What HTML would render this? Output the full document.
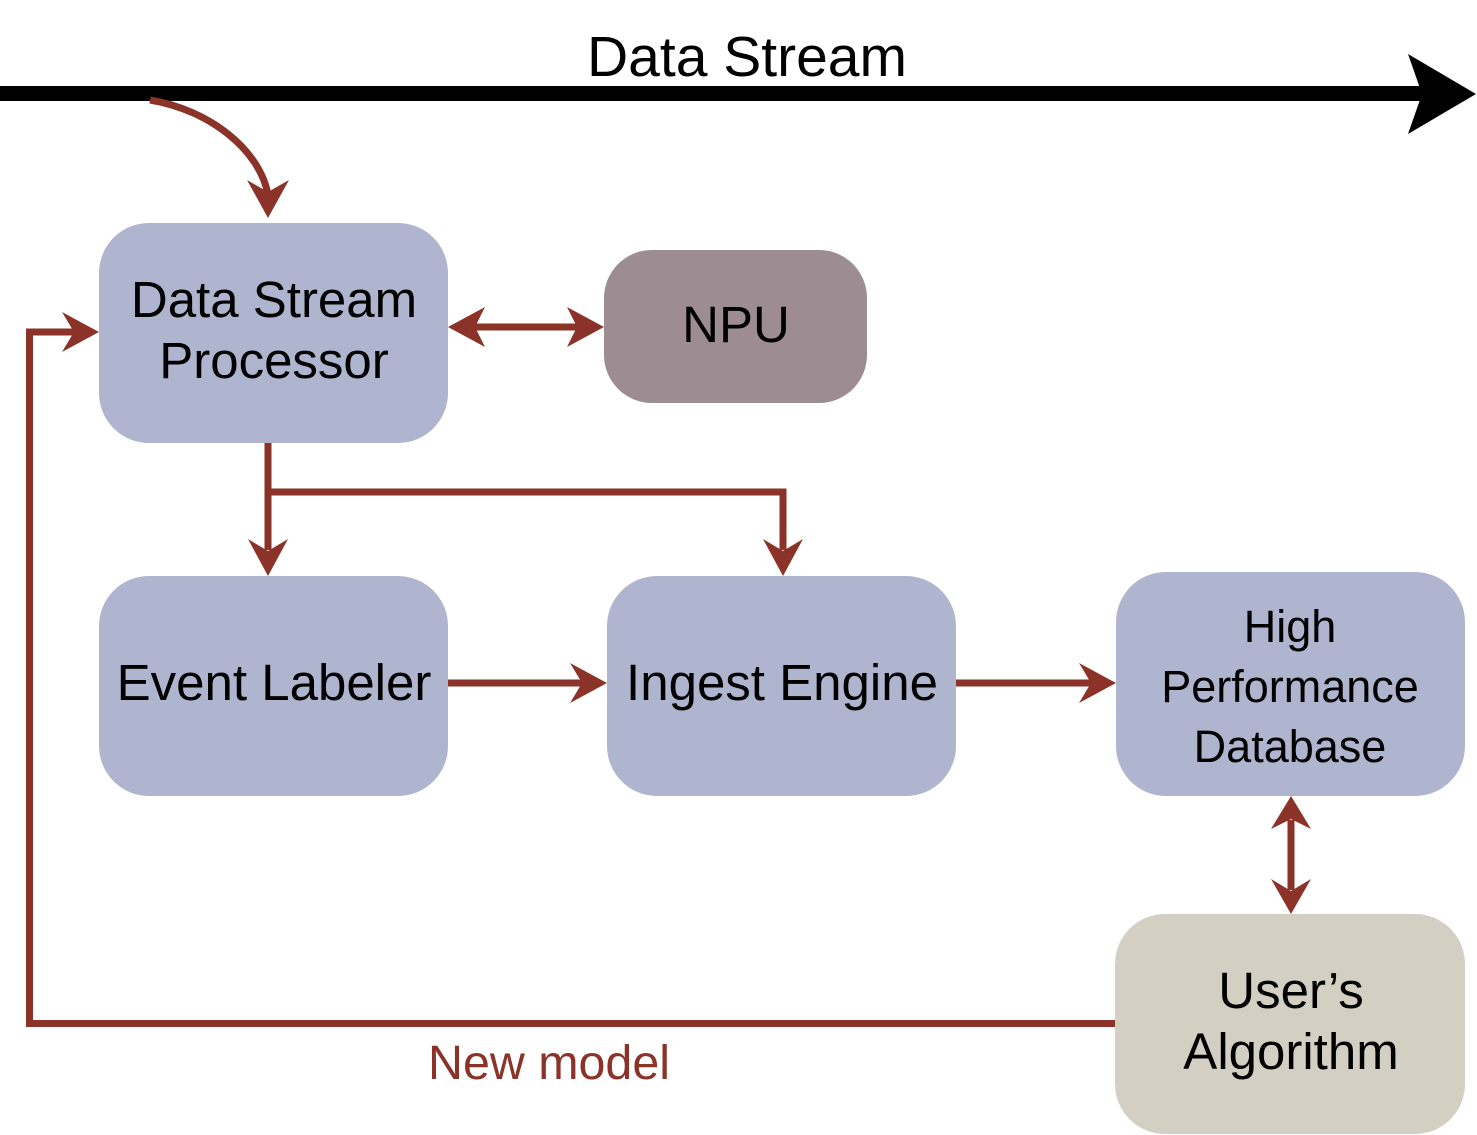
<!DOCTYPE html>
<html><head><meta charset="utf-8"><style>
html,body{margin:0;padding:0;background:#fff;}
svg{display:block;}
text{font-family:"Liberation Sans",Arial,sans-serif;}
</style></head><body>
<svg width="1477" height="1135" viewBox="0 0 1477 1135" xmlns="http://www.w3.org/2000/svg">
<rect x="0" y="86" width="1422" height="15" fill="#000"/>
<polygon points="1476,94 1408,54 1422,94 1408,134" fill="#000"/>
<text x="747" y="76" font-size="57" text-anchor="middle" fill="#000">Data Stream</text>

<g fill="none" stroke="#8b3229" stroke-width="7">
<path d="M150,100 C210,110 260,150 268,195"/>
<line x1="475" y1="327" x2="580" y2="327"/>
<line x1="268" y1="440" x2="268" y2="550"/>
<polyline points="268,492 783,492 783,550"/>
<line x1="448" y1="683" x2="585" y2="683"/>
<line x1="956" y1="683" x2="1095" y2="683"/>
<line x1="1291" y1="820" x2="1291" y2="890"/>
<polyline points="1116,1023.5 29.5,1023.5 29.5,332 75,332"/>
</g>
<g fill="#8b3229">
<polygon points="268,218 247,180 268,192 289,180"/>
<polygon points="448,327 485,307 475,327 485,347"/>
<polygon points="604,327 567,307 577,327 567,347"/>
<polygon points="268,576 248,539 268,551 288,539"/>
<polygon points="783,576 763,539 783,551 803,539"/>
<polygon points="607,683 570,663 582,683 570,703"/>
<polygon points="1116,683 1079,663 1091,683 1079,703"/>
<polygon points="1291,796 1271,829 1291,819 1311,829"/>
<polygon points="1291,914 1271,879 1291,891 1311,879"/>
<polygon points="99,332 62,312 74,332 62,352"/>
</g>

<rect x="99" y="223" width="349" height="220" rx="50" fill="#afb5cf"/>
<rect x="604" y="250" width="263" height="153" rx="48" fill="#9d8d92"/>
<rect x="99" y="576" width="349" height="220" rx="50" fill="#afb5cf"/>
<rect x="607" y="576" width="349" height="220" rx="50" fill="#afb5cf"/>
<rect x="1116" y="572" width="349" height="224" rx="50" fill="#afb5cf"/>
<rect x="1115" y="914" width="350" height="220" rx="50" fill="#d4cfc3"/>

<g font-size="51" text-anchor="middle" fill="#000">
<text x="274" y="317">Data Stream</text>
<text x="274" y="378">Processor</text>
<text x="736" y="342">NPU</text>
<text x="274" y="700">Event Labeler</text>
<text x="782" y="700">Ingest Engine</text>
<text x="1291" y="1008">User’s</text>
<text x="1291" y="1069">Algorithm</text>
</g>
<g font-size="45" text-anchor="middle" fill="#000">
<text x="1290" y="642">High</text>
<text x="1290" y="702">Performance</text>
<text x="1290" y="762">Database</text>
</g>
<text x="428" y="1079" font-size="48" fill="#8b3229" textLength="242" lengthAdjust="spacingAndGlyphs">New model</text>
</svg>
</body></html>
